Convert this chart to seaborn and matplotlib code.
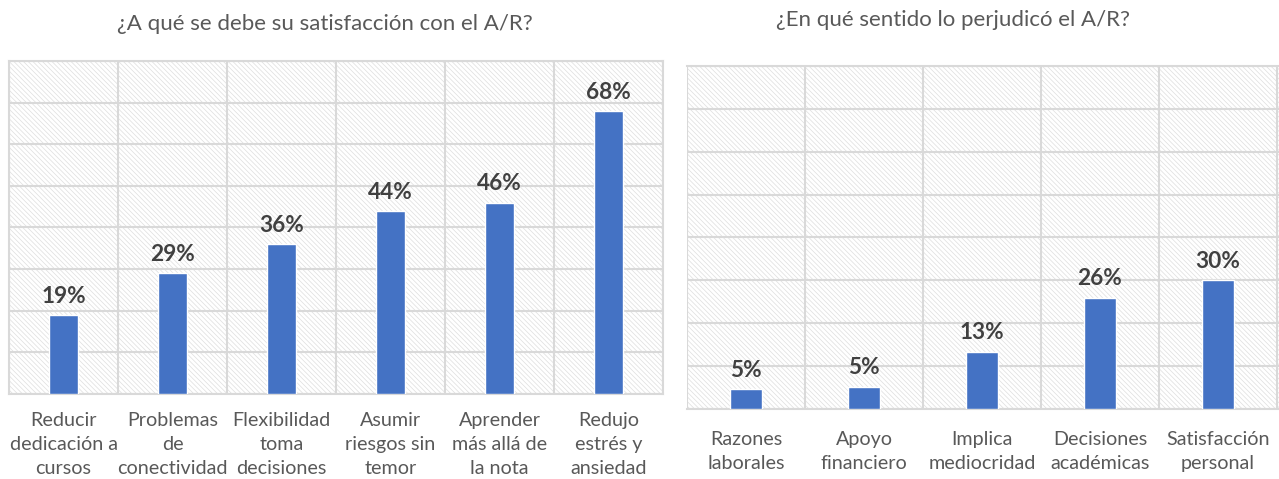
import numpy as np
import pandas as pd
import seaborn as sns
import matplotlib.pyplot as plt
from matplotlib.patches import Rectangle

# data
left_title = "¿A qué se debe su satisfacción con el A/R?"
left_cats = ["Reducir\ndedicación a\ncursos", "Problemas\nde\nconectividad",
             "Flexibilidad\ntoma\ndecisiones", "Asumir\nriesgos sin\ntemor",
             "Aprender\nmás allá de\nla nota", "Redujo\nestrés y\nansiedad"]
left_vals = [19, 29, 36, 44, 46, 68]

right_title = "¿En qué sentido lo perjudicó el A/R?"
right_cats = ["Razones\nlaborales", "Apoyo\nfinanciero", "Implica\nmediocridad",
              "Decisiones\nacadémicas", "Satisfacción\npersonal"]
right_vals = [4.6, 5.2, 13.4, 26, 30]

BAR = "#4472C4"
GRID = "#d9d9d9"
TXT = "#595959"

sns.set_style("white")
plt.rcParams['font.family'] = ['Lato', 'DejaVu Sans']
plt.rcParams['hatch.linewidth'] = 0.5


def draw(ax, cats, vals, title, pad, xlim, title_x, title_pad):
    df = pd.DataFrame({"cat": cats, "val": vals})
    sns.barplot(data=df, x="cat", y="val", color=BAR, width=0.267,
                saturation=1, ax=ax, zorder=3)
    # light diagonal hatch behind everything
    ax.add_patch(Rectangle((0, 0), 1, 1, transform=ax.transAxes, fill=False,
                           hatch="\\\\\\\\\\\\\\", edgecolor="#dedede", lw=0, zorder=0))
    n = len(cats)
    ax.set_xlim(*xlim)
    ax.set_ylim(0, 80)
    ax.set_yticks(np.arange(0, 81, 10))
    ax.set_yticklabels([])
    ax.set_xticks(np.arange(-0.5, n), minor=True)
    ax.grid(True, axis="y", color=GRID, lw=1.5, zorder=1)
    ax.grid(True, axis="x", which="minor", color=GRID, lw=1.5, zorder=1)
    ax.tick_params(axis="both", which="both", length=0)
    ax.tick_params(axis="x", pad=pad, labelsize=14.2, labelcolor=TXT)
    for lbl in ax.get_xticklabels():
        lbl.set_linespacing(1.49)
    for s in ax.spines.values():
        s.set_color(GRID)
        s.set_linewidth(1.5)
    ax.set_xlabel("")
    ax.set_ylabel("")
    ax.set_title(title, fontsize=16, color=TXT, x=title_x, pad=title_pad)
    ax.bar_label(ax.containers[0], labels=[f"{v:.0f}%" for v in vals],
                 padding=6, fontsize=16.3, fontweight="bold", color="#404040")


fig = plt.figure(figsize=(12.79, 4.79), dpi=100)
ax1 = fig.add_axes([9 / 1279, 1 - 394 / 479, 654 / 1279, 333 / 479])
ax2 = fig.add_axes([687 / 1279, 1 - 409 / 479, 592 / 1279, 343 / 479])

draw(ax1, left_cats, left_vals, left_title, 13, (-0.5, 5.5), 0.483, 22)
draw(ax2, right_cats, right_vals, right_title, 16, (-0.417, 4.517), 0.449, 29)
ax2.spines["left"].set_visible(False)
ax2.spines["right"].set_visible(False)

fig.savefig("out.png", dpi=100)
